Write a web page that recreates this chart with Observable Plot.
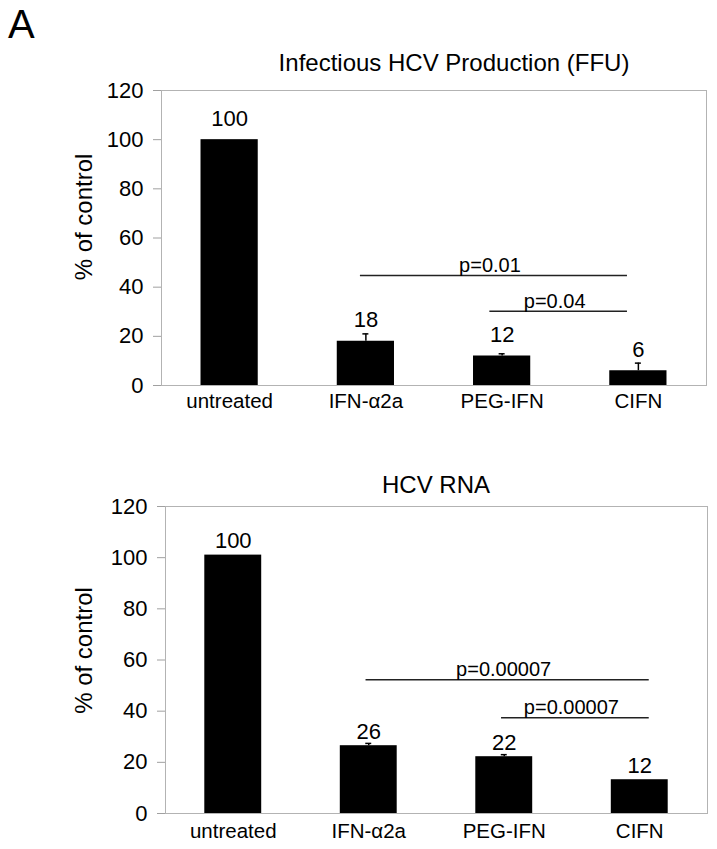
<!DOCTYPE html>
<html>
<head>
<meta charset="utf-8">
<script src="https://cdn.jsdelivr.net/npm/d3@7"></script>
<script src="https://cdn.jsdelivr.net/npm/@observablehq/plot@0.6"></script>
<style>
  body { margin: 0; background: #fff; font-family: "Liberation Sans", Arial, sans-serif; }
  #wrap { position: relative; width: 717px; height: 849px; overflow: hidden; background: #fff; }
  .panel { position: absolute; left: 0; }
  .ttl { position: absolute; white-space: nowrap; transform: translate(-50%, -50%); font-size: 24px; color: #000; line-height: 1.2; }
  #letter { position: absolute; left: 8px; top: 2px; font-size: 40px; line-height: normal; color: #000; }
</style>
</head>
<body>
<div id="wrap">
  <div class="panel" id="p1" style="top:0px"></div>
  <div class="panel" id="p2" style="top:420px"></div>
  <div id="letter">A</div>
  <div class="ttl" id="t1" style="left:454px; top:63px">Infectious HCV Production (FFU)</div>
  <div class="ttl" id="t2" style="left:436px; top:485px">HCV RNA</div>
</div>
<script>
// ---- data ----
const categories = ["untreated", "IFN-\u03b12a", "PEG-IFN", "CIFN"];
const yTicks = [0, 20, 40, 60, 80, 100, 120];

// Panel 1: Infectious HCV Production (FFU)
const ffuValues   = [100, 18, 12, 6];
const ffuErrorTop = [100, 21, 12.9, 9.1];
const ffuLabels   = ["100", "18", "12", "6"];
const ffuBracketFrom = [0.96, 1.91];
const ffuBracketTo   = [2.92, 2.92];
const ffuBracketY    = [44.7, 30.2];
const ffuBracketText = ["p=0.01", "p=0.04"];

// Panel 2: HCV RNA
const rnaValues   = [101, 26.5, 22.2, 13.2];
const rnaErrorTop = [101, 27.4, 23, 13.2];
const rnaLabels   = ["100", "26", "22", "12"];
const rnaBracketFrom = [0.98, 1.98];
const rnaBracketTo   = [3.07, 3.07];
const rnaBracketY    = [52.3, 37.4];
const rnaBracketText = ["p=0.00007", "p=0.00007"];

function makePanel(cfg) {
  const rows = categories.map((c, i) => ({i, c, v: cfg.values[i], e: cfg.err[i], l: cfg.labels[i]}));
  const errs = rows.filter(d => d.e > d.v);
  const brackets = cfg.bFrom.map((f, k) => ({from: f, to: cfg.bTo[k], y: cfg.bY[k], text: cfg.bText[k]}));
  const hw = 0.21, cap = 0.022;
  const svg = Plot.plot({
    width: 717,
    height: cfg.height,
    marginLeft: cfg.ml, marginRight: cfg.mr, marginTop: cfg.mt, marginBottom: cfg.mb,
    style: {fontFamily: "'Liberation Sans', Arial, sans-serif", fontSize: "22px", background: "transparent", color: "#000", overflow: "visible"},
    x: {domain: [-0.5, 3.5], ticks: [0, 1, 2, 3], tickFormat: i => categories[i], tickSize: 0, tickPadding: cfg.xPad, label: null},
    y: {domain: [0, 120], ticks: yTicks, tickSize: 8, tickPadding: 10, label: null},
    marks: [
      Plot.frame({stroke: "#b3b3b3"}),
      Plot.rectY(rows, {x1: d => d.i - hw, x2: d => d.i + hw, y: "v", fill: "#000"}),
      Plot.ruleX(errs, {x: "i", y1: "v", y2: "e", stroke: "#000", strokeWidth: 1.5}),
      Plot.ruleY(errs, {y: "e", x1: d => d.i - cap, x2: d => d.i + cap, stroke: "#000", strokeWidth: 1.5}),
      Plot.text(rows, {x: "i", y: "v", text: "l", dy: cfg.labelDy, fontSize: 22, fill: "#000"}),
      Plot.ruleY(brackets, {y: "y", x1: "from", x2: "to", stroke: "#222", strokeWidth: 1.5}),
      Plot.text(brackets, {x: d => (d.from + d.to) / 2, y: "y", text: "text", dy: -10, dx: -4, fontSize: 20, fill: "#000"}),
      Plot.text(["% of control"], {frameAnchor: "left", textAnchor: "middle", lineAnchor: "middle", rotate: -90, dx: cfg.yLabDx, dy: cfg.yLabDy, fontSize: 24, fill: "#000"})
    ]
  });
  // grey tick marks on y axis
  svg.querySelectorAll('[aria-label^="y-axis"] line, [aria-label="y-axis tick"] path, [aria-label="y-axis tick"]').forEach(el => {
    el.setAttribute("stroke", "#a0a0a0");
  });
  svg.querySelectorAll('[aria-label^="x-axis"] text').forEach(t => t.setAttribute("font-size", "20.5"));
  return svg;
}

document.getElementById("p1").appendChild(makePanel({
  values: ffuValues, err: ffuErrorTop, labels: ffuLabels,
  bFrom: ffuBracketFrom, bTo: ffuBracketTo, bY: ffuBracketY, bText: ffuBracketText,
  height: 420, ml: 161, mr: 11, mt: 90, mb: 35, xPad: 8, labelDy: -21, yLabDx: -77, yLabDy: -21
}));
document.getElementById("p2").appendChild(makePanel({
  values: rnaValues, err: rnaErrorTop, labels: rnaLabels,
  bFrom: rnaBracketFrom, bTo: rnaBracketTo, bY: rnaBracketY, bText: rnaBracketText,
  height: 429, ml: 165, mr: 10, mt: 86, mb: 36, xPad: 10, labelDy: -14, yLabDx: -81, yLabDy: -9.5
}));
</script>
</body>
</html>
